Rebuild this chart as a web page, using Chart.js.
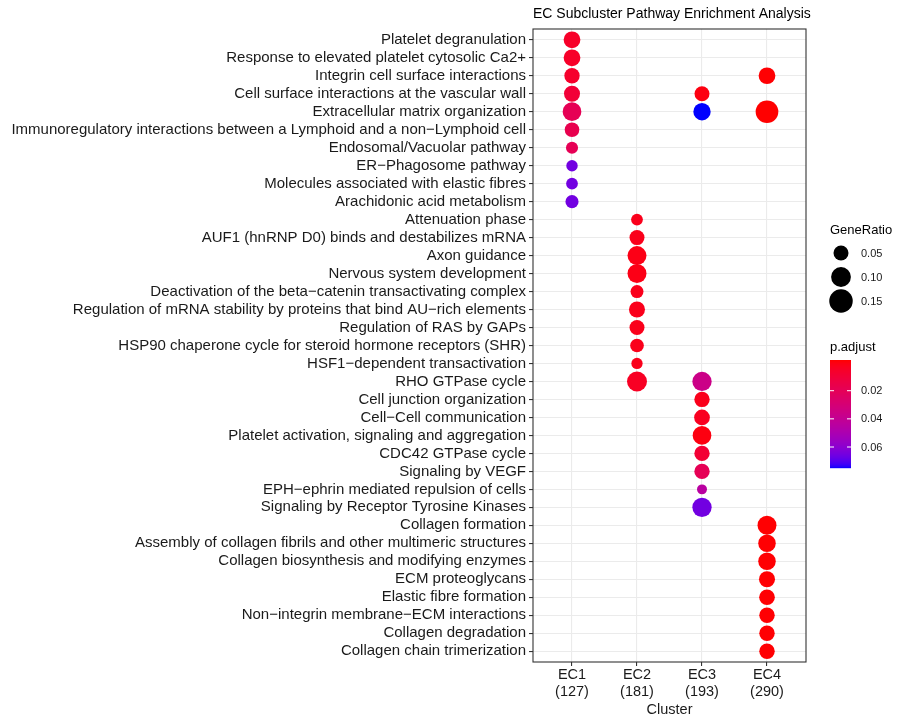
<!DOCTYPE html>
<html>
<head>
<meta charset="utf-8">
<script src="https://cdn.jsdelivr.net/npm/chart.js@4.4.1/dist/chart.umd.min.js"></script>
<style>
  html, body { margin: 0; padding: 0; background: #ffffff; }
  #wrap { width: 898px; height: 717px; position: relative; }
</style>
</head>
<body>
<div id="wrap"><canvas id="c" width="898" height="717"></canvas></div>
<script>
// ---- Pathway terms (y axis, top to bottom) ----
const pathways = [
  'Platelet degranulation',
  'Response to elevated platelet cytosolic Ca2+',
  'Integrin cell surface interactions',
  'Cell surface interactions at the vascular wall',
  'Extracellular matrix organization',
  'Immunoregulatory interactions between a Lymphoid and a non\u2212Lymphoid cell',
  'Endosomal/Vacuolar pathway',
  'ER\u2212Phagosome pathway',
  'Molecules associated with elastic fibres',
  'Arachidonic acid metabolism',
  'Attenuation phase',
  'AUF1 (hnRNP D0) binds and destabilizes mRNA',
  'Axon guidance',
  'Nervous system development',
  'Deactivation of the beta\u2212catenin transactivating complex',
  'Regulation of mRNA stability by proteins that bind AU\u2212rich elements',
  'Regulation of RAS by GAPs',
  'HSP90 chaperone cycle for steroid hormone receptors (SHR)',
  'HSF1\u2212dependent transactivation',
  'RHO GTPase cycle',
  'Cell junction organization',
  'Cell\u2212Cell communication',
  'Platelet activation, signaling and aggregation',
  'CDC42 GTPase cycle',
  'Signaling by VEGF',
  'EPH\u2212ephrin mediated repulsion of cells',
  'Signaling by Receptor Tyrosine Kinases',
  'Collagen formation',
  'Assembly of collagen fibrils and other multimeric structures',
  'Collagen biosynthesis and modifying enzymes',
  'ECM proteoglycans',
  'Elastic fibre formation',
  'Non\u2212integrin membrane\u2212ECM interactions',
  'Collagen degradation',
  'Collagen chain trimerization'
];

// ---- Clusters (x axis) ----
const clusters = ['EC1', 'EC2', 'EC3', 'EC4'];
const clusterSizes = [127, 181, 193, 290];

// ---- EC1 ----
const ec1Terms = [0, 1, 2, 3, 4, 5, 6, 7, 8, 9];
const ec1GeneRatio = [0.066, 0.066, 0.053, 0.059, 0.087, 0.047, 0.028, 0.024, 0.026, 0.035];
const ec1PAdjust = [0.007, 0.007, 0.008, 0.011, 0.020, 0.018, 0.020, 0.064, 0.064, 0.064];

// ---- EC2 ----
const ec2Terms = [10, 11, 12, 13, 14, 15, 16, 17, 18, 19];
const ec2GeneRatio = [0.026, 0.050, 0.090, 0.090, 0.034, 0.059, 0.050, 0.039, 0.023, 0.102];
const ec2PAdjust = [0.004, 0.004, 0.003, 0.003, 0.004, 0.004, 0.004, 0.004, 0.004, 0.006];

// ---- EC3 ----
const ec3Terms = [3, 4, 19, 20, 21, 22, 23, 24, 25, 26];
const ec3GeneRatio = [0.050, 0.072, 0.094, 0.053, 0.056, 0.087, 0.053, 0.053, 0.016, 0.094];
const ec3PAdjust = [0.002, 0.073, 0.036, 0.004, 0.005, 0.002, 0.010, 0.020, 0.044, 0.064];

// ---- EC4 ----
const ec4Terms = [2, 4, 27, 28, 29, 30, 31, 32, 33, 34];
const ec4GeneRatio = [0.066, 0.138, 0.090, 0.074, 0.074, 0.059, 0.056, 0.054, 0.054, 0.054];
const ec4PAdjust = [0.0004, 0.0001, 0.0003, 0.0004, 0.0004, 0.0005, 0.0005, 0.0005, 0.0005, 0.0005];

// ---- Legend breaks ----
const sizeBreaks = [0.05, 0.10, 0.15];
const colorBreaks = [0.02, 0.04, 0.06];

const allP = [].concat(ec1PAdjust, ec2PAdjust, ec3PAdjust, ec4PAdjust);
const pMin = Math.min.apply(null, allP);
const pMax = Math.max.apply(null, allP);

// Dot diameter (px) from GeneRatio, area-like scaling
function dotDiameter(g) { return 3.4 + 51.9 * Math.sqrt(g); }

// Red -> blue gradient interpolated in CIE Lab
function toLin(c) { c /= 255; return c <= 0.04045 ? c / 12.92 : Math.pow((c + 0.055) / 1.055, 2.4); }
function toSrgb(c) {
  const v = c <= 0.0031308 ? 12.92 * c : 1.055 * Math.pow(c, 1 / 2.4) - 0.055;
  return Math.round(Math.max(0, Math.min(1, v)) * 255);
}
function rgbToLab(rgb) {
  const r = toLin(rgb[0]), g = toLin(rgb[1]), b = toLin(rgb[2]);
  const X = (0.4124564 * r + 0.3575761 * g + 0.1804375 * b) / 0.95047;
  const Y = (0.2126729 * r + 0.7151522 * g + 0.0721750 * b);
  const Z = (0.0193339 * r + 0.1191920 * g + 0.9503041 * b) / 1.08883;
  const f = t => t > 0.008856 ? Math.cbrt(t) : 7.787 * t + 16 / 116;
  const fx = f(X), fy = f(Y), fz = f(Z);
  return [116 * fy - 16, 500 * (fx - fy), 200 * (fy - fz)];
}
function labToRgb(lab) {
  const fy = (lab[0] + 16) / 116, fx = fy + lab[1] / 500, fz = fy - lab[2] / 200;
  const inv = t => { const t3 = t * t * t; return t3 > 0.008856 ? t3 : (t - 16 / 116) / 7.787; };
  const X = inv(fx) * 0.95047, Y = inv(fy), Z = inv(fz) * 1.08883;
  const r = 3.2404542 * X - 1.5371385 * Y - 0.4985314 * Z;
  const g = -0.9692660 * X + 1.8760108 * Y + 0.0415560 * Z;
  const b = 0.0556434 * X - 0.2040259 * Y + 1.0572252 * Z;
  return 'rgb(' + toSrgb(r) + ',' + toSrgb(g) + ',' + toSrgb(b) + ')';
}
const labLow = rgbToLab([255, 0, 0]);
const labHigh = rgbToLab([0, 0, 255]);
function colorAt(t) {
  t = Math.max(0, Math.min(1, t));
  return labToRgb([0, 1, 2].map(k => labLow[k] + (labHigh[k] - labLow[k]) * t));
}
function pColor(p) { return colorAt((p - pMin) / (pMax - pMin)); }

function makeDataset(ci, terms, ratios, padj) {
  return {
    label: clusters[ci],
    data: terms.map((ti, i) => ({ x: ci + 1, y: ti + 1, g: ratios[i], p: padj[i] })),
    pointRadius: ctx => dotDiameter(ctx.raw.g) / 2,
    pointHoverRadius: ctx => dotDiameter(ctx.raw.g) / 2,
    pointBackgroundColor: ctx => pColor(ctx.raw.p),
    pointBorderWidth: 0,
    pointHoverBorderWidth: 0
  };
}

const FONT = "'Liberation Sans', Arial, Helvetica, sans-serif";
const PANEL_LEFT = 533, PANEL_TOP = 29, PANEL_RIGHT = 806, PANEL_BOTTOM = 662;

// Panel frame, title and the two legends
const decorations = {
  id: 'decorations',
  afterDatasetsDraw(chart) {
    const ctx = chart.ctx, a = chart.chartArea;
    ctx.save();
    ctx.strokeStyle = '#333333';
    ctx.lineWidth = 1.1;
    ctx.strokeRect(a.left, a.top, a.right - a.left, a.bottom - a.top);
    ctx.restore();
  },
  afterDraw(chart) {
    const ctx = chart.ctx, a = chart.chartArea;
    ctx.save();
    ctx.fillStyle = '#000000';
    ctx.textBaseline = 'middle';
    ctx.textAlign = 'left';
    ctx.font = '14px ' + FONT;
    ctx.fillText('EC Subcluster Pathway Enrichment Analysis', a.left, 14);

    // size legend
    const lx = 830;
    ctx.font = '13px ' + FONT;
    ctx.fillText('GeneRatio', lx, 230);
    const sizeY = [253, 277, 301];
    sizeBreaks.forEach((v, i) => {
      ctx.beginPath();
      ctx.fillStyle = '#000000';
      ctx.arc(841, sizeY[i], dotDiameter(v) / 2, 0, Math.PI * 2);
      ctx.fill();
      ctx.font = '11px ' + FONT;
      ctx.fillStyle = '#1a1a1a';
      ctx.fillText(v.toFixed(2), 861, sizeY[i] + 0.5);
    });

    // colour bar
    ctx.fillStyle = '#000000';
    ctx.font = '13px ' + FONT;
    ctx.fillText('p.adjust', lx, 347);
    const bx = 830, bw = 21, by = 360, bh = 108;
    for (let i = 0; i < bh; i++) {
      ctx.fillStyle = colorAt((i + 0.5) / bh);
      ctx.fillRect(bx, by + i, bw, 1.2);
    }
    ctx.font = '11px ' + FONT;
    colorBreaks.forEach(v => {
      const frac = (v - pMin) / (pMax - pMin);
      const y = by + bh * (0.025 + 0.95 * frac);
      ctx.strokeStyle = '#ffffff';
      ctx.lineWidth = 1;
      ctx.beginPath();
      ctx.moveTo(bx, y); ctx.lineTo(bx + 4, y);
      ctx.moveTo(bx + bw - 4, y); ctx.lineTo(bx + bw, y);
      ctx.stroke();
      ctx.fillStyle = '#1a1a1a';
      ctx.fillText(v.toFixed(2), 861, y + 0.5);
    });
    ctx.restore();
  }
};

new Chart(document.getElementById('c'), {
  type: 'scatter',
  data: {
    datasets: [
      makeDataset(0, ec1Terms, ec1GeneRatio, ec1PAdjust),
      makeDataset(1, ec2Terms, ec2GeneRatio, ec2PAdjust),
      makeDataset(2, ec3Terms, ec3GeneRatio, ec3PAdjust),
      makeDataset(3, ec4Terms, ec4GeneRatio, ec4PAdjust)
    ]
  },
  options: {
    responsive: false,
    animation: false,
    devicePixelRatio: 1,
    layout: { padding: { left: 0, top: PANEL_TOP, right: 898 - PANEL_RIGHT, bottom: 0 } },
    plugins: { legend: { display: false }, tooltip: { enabled: false }, title: { display: false } },
    scales: {
      x: {
        type: 'linear',
        min: 0.4,
        max: 4.6,
        afterBuildTicks: s => { s.ticks = clusters.map((c, i) => ({ value: i + 1 })); },
        afterFit: s => { s.height = 717 - PANEL_BOTTOM; },
        ticks: {
          autoSkip: false,
          maxRotation: 0,
          padding: 1,
          color: '#1a1a1a',
          font: { family: FONT, size: 14.5, lineHeight: 1.17 },
          callback: v => [clusters[v - 1], '(' + clusterSizes[v - 1] + ')']
        },
        grid: { color: '#EBEBEB', lineWidth: 1.1, tickColor: '#333333', tickLength: 4, tickWidth: 1.1 },
        border: { display: false },
        title: {
          display: true, text: 'Cluster', color: '#1a1a1a',
          font: { family: FONT, size: 14.5, lineHeight: 1.0 }, padding: { top: 0, bottom: 0 }
        }
      },
      y: {
        type: 'linear',
        reverse: true,
        min: 0.4,
        max: 35.6,
        afterBuildTicks: s => { s.ticks = pathways.map((p, i) => ({ value: i + 1 })); },
        afterFit: s => { s.width = PANEL_LEFT; },
        ticks: {
          autoSkip: false,
          padding: 3,
          color: '#1a1a1a',
          font: { family: FONT, size: 15 },
          callback: v => pathways[v - 1]
        },
        grid: { color: '#EBEBEB', lineWidth: 1.1, tickColor: '#333333', tickLength: 4, tickWidth: 1.1 },
        border: { display: false }
      }
    }
  },
  plugins: [decorations]
});
</script>
</body>
</html>
